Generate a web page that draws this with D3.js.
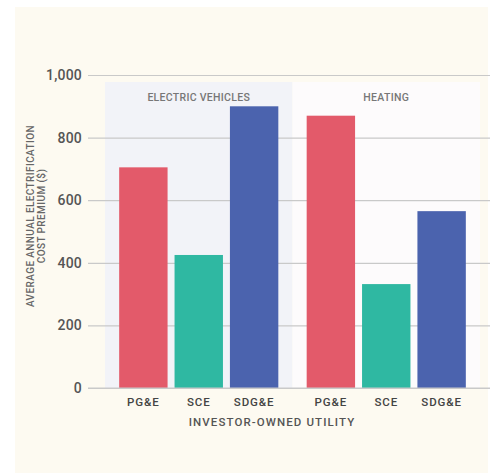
<!DOCTYPE html>
<html><head><meta charset="utf-8">
<script src="https://cdn.jsdelivr.net/npm/d3@7"></script>
<style>
html,body{margin:0;padding:0;background:#fff;}
svg text{font-family:Roboto,"DejaVu Sans",sans-serif;font-weight:500;}
</style></head>
<body><svg id="chart" width="496" height="474"></svg>
<script>
const groups = ["ELECTRIC VEHICLES", "HEATING"];
const utilities = ["PG&E", "SCE", "SDG&E"];
const evValues = [705, 425, 900];
const heatingValues = [870, 332, 565];
const yTicks = [0, 200, 400, 600, 800, 1000];
const colors = ["#e35a6a", "#2fb8a2", "#4b63ae"];
const panelColors = ["#f2f3f8", "#fdfbfc"];

const seriesByGroup = [evValues, heatingValues];
const data = [];
groups.forEach((g, gi) => utilities.forEach((u, ui) => data.push({group: g, utility: u, value: seriesByGroup[gi][ui], ui})));

const svg = d3.select("#chart");
svg.append("rect").attr("x", 15).attr("y", 7).attr("width", 473).attr("height", 466).attr("fill", "#fdfaf1");

const x0 = d3.scaleBand().domain(groups).range([105, 480]).padding(0);
const x1 = d3.scaleBand().domain(utilities).range([0, x0.bandwidth()]).paddingInner(0.126).paddingOuter(0.256);
const y = d3.scaleLinear().domain([0, 1000]).range([388, 75]);

// panels
svg.selectAll("rect.panel").data(groups).enter().append("rect")
  .attr("class", "panel")
  .attr("x", d => x0(d)).attr("y", 82)
  .attr("width", x0.bandwidth()).attr("height", y(0) - 82)
  .attr("fill", (d, i) => panelColors[i]);

// gridlines
const yAxis = d3.axisLeft(y).tickValues(yTicks).tickFormat(d3.format(",")).tickSize(-(490 - 88)).tickPadding(7);
const ya = svg.append("g").attr("transform", "translate(88,0)").call(yAxis);
ya.select(".domain").remove();
ya.selectAll(".tick line").attr("stroke", "#c9c9c9").attr("stroke-width", 1.2);
ya.selectAll(".tick text").attr("font-size", 14).attr("fill", "#555").attr("letter-spacing", 0.2)
  .attr("font-family", "Roboto, sans-serif").attr("font-weight", 500).attr("x", -6);

// panel labels
svg.selectAll("text.panel-label").data(groups).enter().append("text")
  .attr("class", "panel-label")
  .attr("x", d => x0(d) + x0.bandwidth() / 2).attr("y", 101)
  .attr("text-anchor", "middle").attr("font-size", 10.5).attr("letter-spacing", 0.3)
  .attr("fill", "#777").text(d => d);

// bars
svg.selectAll("rect.bar").data(data).enter().append("rect")
  .attr("class", "bar")
  .attr("x", d => x0(d.group) + x1(d.utility))
  .attr("y", d => y(d.value))
  .attr("width", x1.bandwidth())
  .attr("height", d => y(0) - y(d.value))
  .attr("fill", d => colors[d.ui]);

// baseline
svg.append("line").attr("x1", 88).attr("x2", 490).attr("y1", y(0)).attr("y2", y(0))
  .attr("stroke", "#c9c9c9").attr("stroke-width", 1.2);

// x labels
svg.selectAll("text.xlab").data(data).enter().append("text")
  .attr("class", "xlab")
  .attr("x", d => x0(d.group) + x1(d.utility) + x1.bandwidth() / 2)
  .attr("y", 406).attr("text-anchor", "middle")
  .attr("font-size", 11.5).attr("letter-spacing", 0.9).attr("fill", "#444")
  .text(d => d.utility);

svg.append("text").attr("x", 272).attr("y", 426).attr("text-anchor", "middle")
  .attr("font-size", 11.5).attr("letter-spacing", 1.1).attr("fill", "#555")
  .text("INVESTOR-OWNED UTILITY");

// y title
const yt = svg.append("text").attr("transform", "translate(34,216) rotate(-90)")
  .attr("text-anchor", "middle").attr("font-size", 10).attr("letter-spacing", 0.4).attr("fill", "#666");
yt.append("tspan").attr("x", 0).attr("dy", 0).text("AVERAGE ANNUAL ELECTRIFICATION");
yt.append("tspan").attr("x", 0).attr("dy", 11).text("COST PREMIUM ($)");
</script></body></html>
